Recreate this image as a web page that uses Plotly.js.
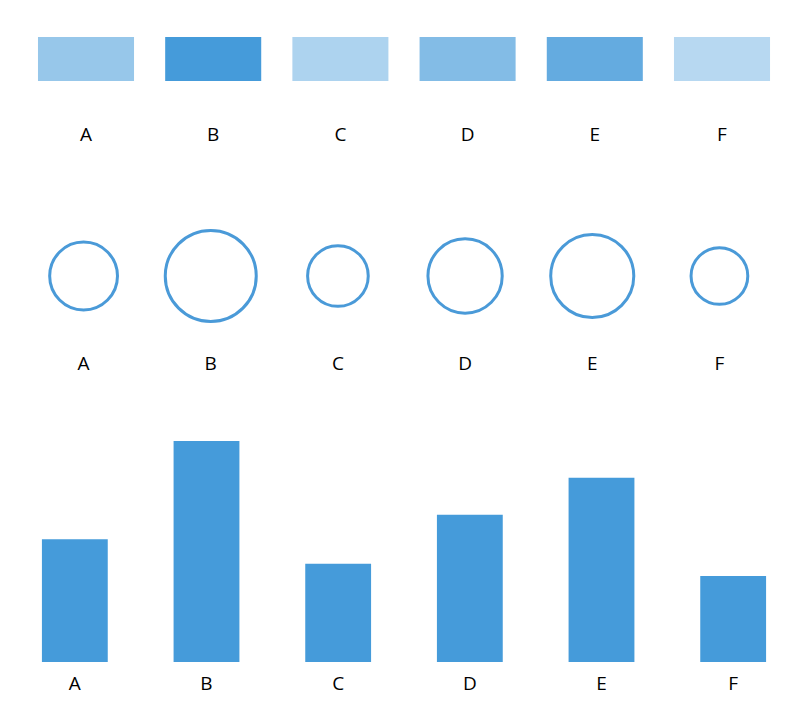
<!DOCTYPE html>
<html>
<head>
<meta charset="utf-8">
<script src="https://cdn.plot.ly/plotly-3.0.1.min.js"></script>
<style>html,body{margin:0;padding:0;background:#fff;}#chart{width:802px;height:720px;}</style>
</head>
<body>
<div id="chart"></div>
<script>
const categories = ["A", "B", "C", "D", "E", "F"];
const values = [5, 9, 4, 6, 7.5, 3.5];

const W = 802, H = 720;
const baseColor = "#459bda";
const maxVal = Math.max(...values);
const opacities = values.map(v => v / maxVal);
const ones = categories.map(() => 1);
const zeros = categories.map(() => 0);

function xd(l, r) { return [l / W, r / W]; }
function yd(top, bottom) { return [1 - bottom / H, 1 - top / H]; }

const font = {family: "Open Sans, Segoe UI, sans-serif", size: 19, color: "#000"};

const traces = [
  {
    type: "bar", x: categories, y: ones, xaxis: "x", yaxis: "y",
    width: 0.755,
    marker: {color: baseColor, opacity: opacities, line: {width: 0}},
    hoverinfo: "x"
  },
  {
    type: "scatter", mode: "markers", x: categories, y: zeros, xaxis: "x2", yaxis: "y2",
    cliponaxis: false,
    marker: {
      size: values, sizemode: "area", sizeref: 2 * 9 / (91 * 91),
      color: "rgba(0,0,0,0)", opacity: 1,
      line: {color: "#4a9ad8", width: 3}
    },
    hoverinfo: "x"
  },
  {
    type: "bar", x: categories, y: values, xaxis: "x3", yaxis: "y3",
    width: 0.5,
    marker: {color: baseColor, line: {width: 0}},
    hoverinfo: "x+y"
  }
];

const xCommon = {
  type: "category", range: [-0.5, 5.5], showgrid: false, zeroline: false,
  showline: false, ticks: "", tickfont: font, fixedrange: true
};
const yCommon = {
  showgrid: false, zeroline: false, showline: false, showticklabels: false, ticks: "", fixedrange: true
};

const layout = {
  width: W, height: H,
  margin: {l: 0, r: 0, t: 0, b: 0, pad: 0},
  paper_bgcolor: "#fff", plot_bgcolor: "#fff",
  showlegend: false,
  xaxis: Object.assign({}, xCommon, {domain: xd(22.4, 785.6), anchor: "y", ticklabelstandoff: 40}),
  yaxis: Object.assign({}, yCommon, {domain: yd(37, 81), range: [0, 1], anchor: "x"}),
  xaxis2: Object.assign({}, xCommon, {domain: xd(20, 783), anchor: "y2", ticklabelstandoff: 24}),
  yaxis2: Object.assign({}, yCommon, {domain: yd(226, 326), range: [-1, 1], anchor: "x2"}),
  xaxis3: Object.assign({}, xCommon, {domain: xd(9, 799), anchor: "y3", ticklabelstandoff: 8}),
  yaxis3: Object.assign({}, yCommon, {domain: yd(441, 662), range: [0, 9], anchor: "x3"})
};

Plotly.newPlot("chart", traces, layout, {displayModeBar: false, staticPlot: true});
</script>
</body>
</html>
